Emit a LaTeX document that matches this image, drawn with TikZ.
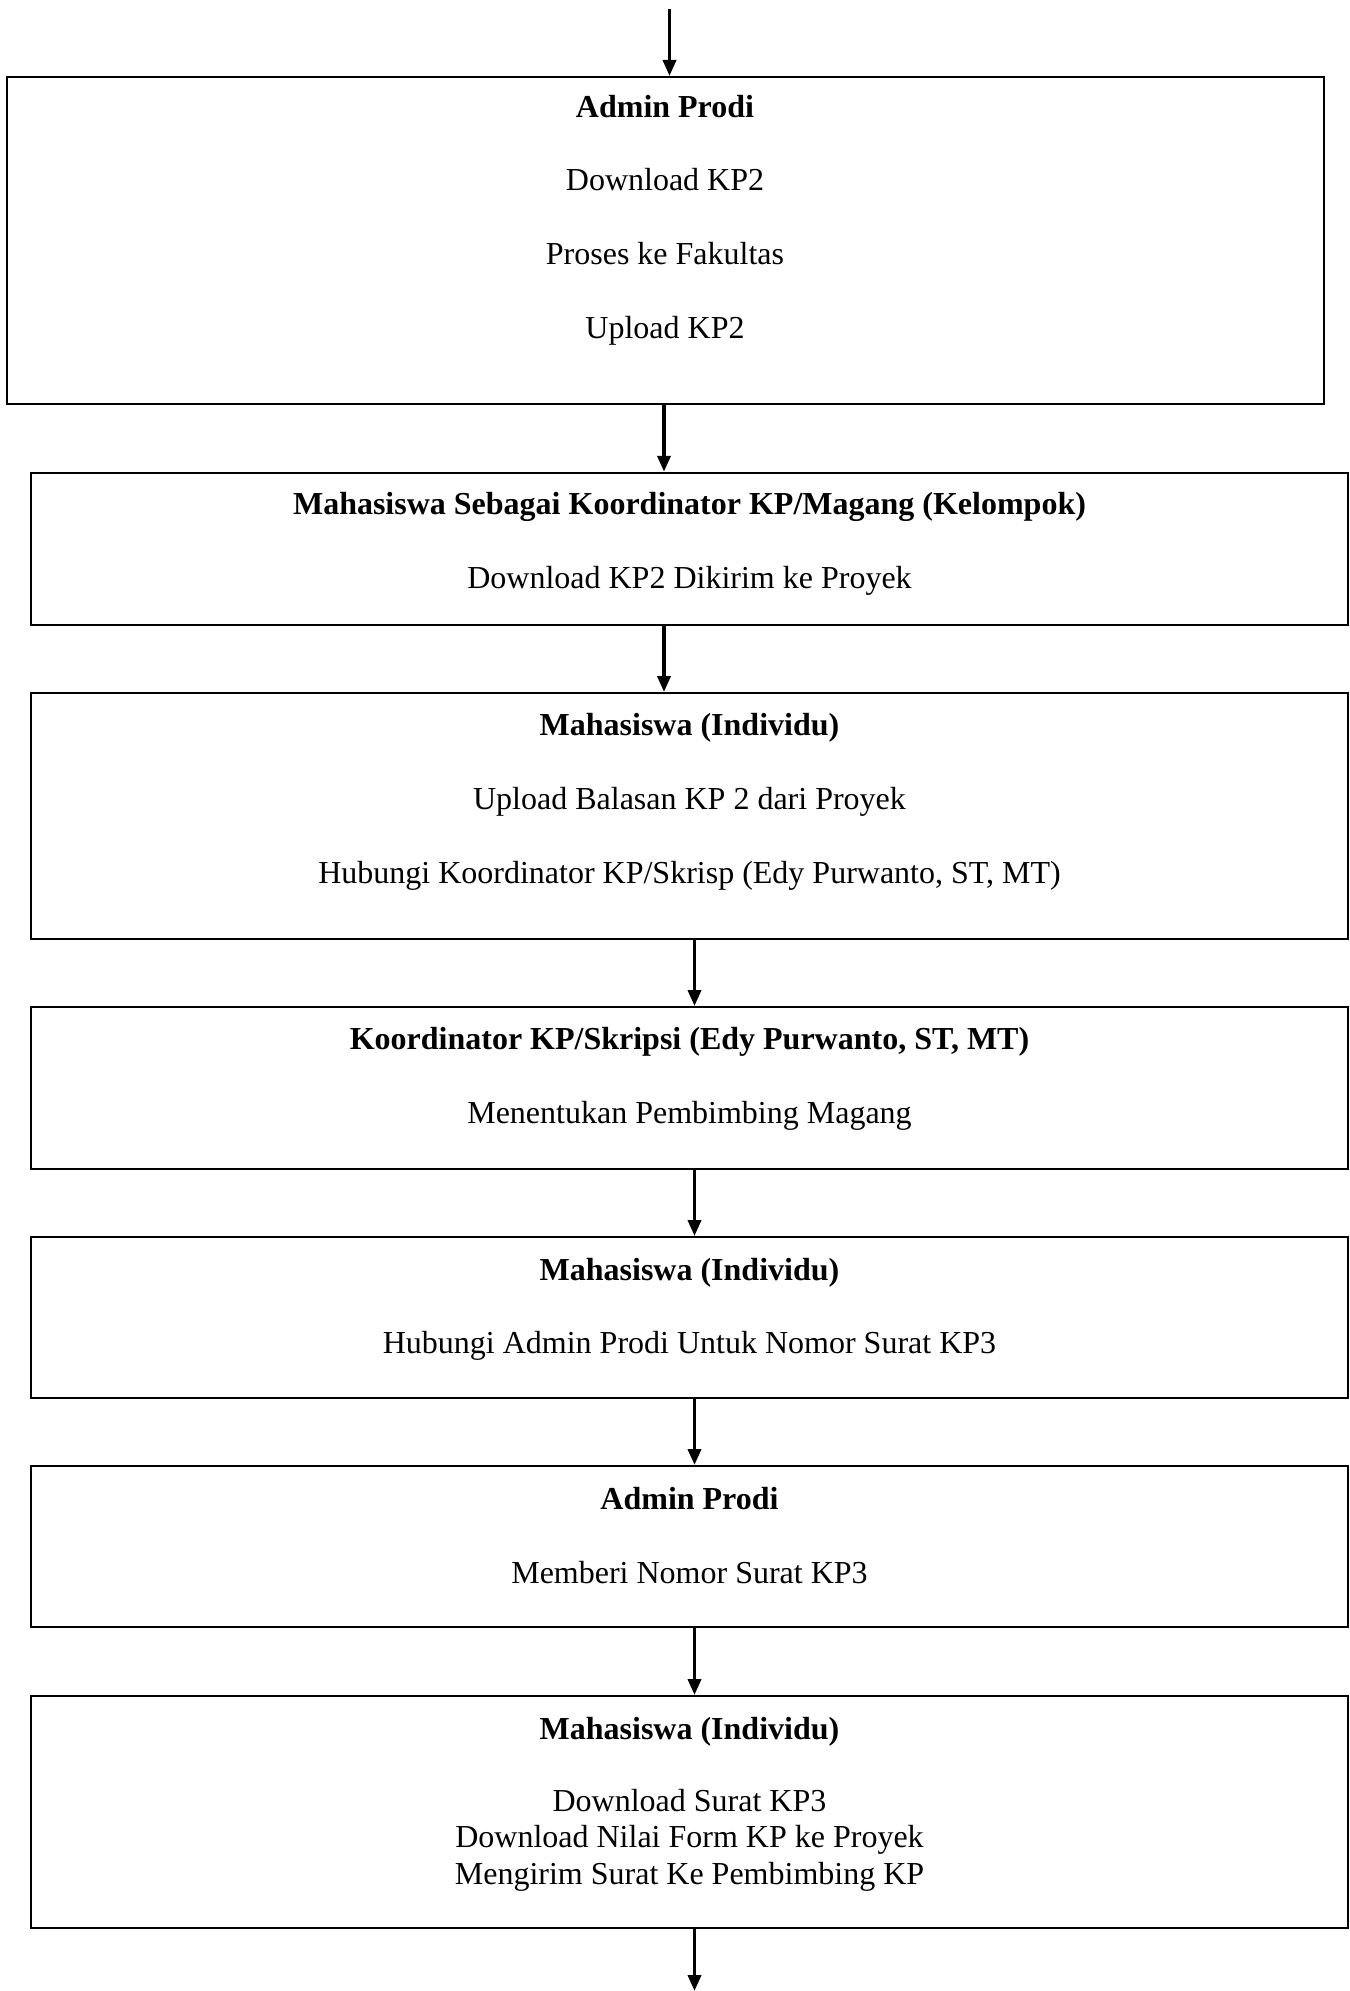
\documentclass[tikz,border=0pt]{standalone}
\usepackage{fontspec}
\setmainfont{Liberation Serif}
\usetikzlibrary{arrows.meta}
\begin{document}
\begin{tikzpicture}[x=1pt,y=-1pt,
  flowbox/.style 2 args={draw, line width=2pt, minimum width=#1, minimum height=#2, inner sep=0pt, anchor=center},
  txt/.style={anchor=base, inner sep=0pt, font=\fontsize{32}{36.5}\selectfont},
  ttl/.style={anchor=base, inner sep=0pt, font=\fontsize{32}{36.5}\selectfont\bfseries},
  arr/.style={line width=3.6pt, -{Triangle[length=16pt,width=13pt]}}]
\useasboundingbox (0,0) rectangle (1349,1991);
% boxes
\node[flowbox={1316.6pt}{327pt}] (b1) at (665.3,240.5) {};
\node[flowbox={1316.6pt}{152.3pt}] (b2) at (689.3,548.9) {};
\node[flowbox={1316.6pt}{246pt}] (b3) at (689.3,816) {};
\node[flowbox={1316.6pt}{162pt}] (b4) at (689.3,1088) {};
\node[flowbox={1316.6pt}{161pt}] (b5) at (689.3,1317.5) {};
\node[flowbox={1316.6pt}{161pt}] (b6) at (689.3,1546.5) {};
\node[flowbox={1316.6pt}{232pt}] (b7) at (689.3,1812) {};
% texts
\node[ttl] (t11) at (665,118) {Admin Prodi};
\node[txt] (t12) at (665,190) {Download KP2};
\node[txt] (t13) at (665,264) {Proses ke Fakultas};
\node[txt] (t14) at (665,338) {Upload KP2};
\node[ttl] (t21) at (689.5,514) {Mahasiswa Sebagai Koordinator KP/Magang (Kelompok)};
\node[txt] (t22) at (689.5,588) {Download KP2 Dikirim ke Proyek};
\node[ttl] (t31) at (689.5,735) {Mahasiswa (Individu)};
\node[txt] (t32) at (689.5,809) {Upload Balasan KP 2 dari Proyek};
\node[txt] (t33) at (689.5,883) {Hubungi Koordinator KP/Skrisp (Edy Purwanto, ST, MT)};
\node[ttl] (t41) at (689.5,1049) {Koordinator KP/Skripsi (Edy Purwanto, ST, MT)};
\node[txt] (t42) at (689.5,1123) {Menentukan Pembimbing Magang};
\node[ttl] (t51) at (689.5,1280) {Mahasiswa (Individu)};
\node[txt] (t52) at (689.5,1353) {Hubungi Admin Prodi Untuk Nomor Surat KP3};
\node[ttl] (t61) at (689.5,1509) {Admin Prodi};
\node[txt] (t62) at (689.5,1583) {Memberi Nomor Surat KP3};
\node[ttl] (t71) at (689.5,1739) {Mahasiswa (Individu)};
\node[txt] (t72) at (689.5,1811) {Download Surat KP3};
\node[txt] (t73) at (689.5,1847) {Download Nilai Form KP ke Proyek};
\node[txt] (t74) at (689.5,1884) {Mengirim Surat Ke Pembimbing KP};
% arrow x positions
\coordinate (start) at (669.5,9);
\coordinate (xa) at (664,0);
\coordinate (xb) at (694.5,0);
\coordinate (endpt) at (694.5,1991);
% connectors
\draw[arr] (start) -- (start |- b1.north);
\draw[arr] (b1.south -| xa) -- (b2.north -| xa);
\draw[arr] (b2.south -| xa) -- (b3.north -| xa);
\draw[arr] (b3.south -| xb) -- (b4.north -| xb);
\draw[arr] (b4.south -| xb) -- (b5.north -| xb);
\draw[arr] (b5.south -| xb) -- (b6.north -| xb);
\draw[arr] (b6.south -| xb) -- (b7.north -| xb);
\draw[arr] (b7.south -| xb) -- (endpt);
\end{tikzpicture}
\end{document}
